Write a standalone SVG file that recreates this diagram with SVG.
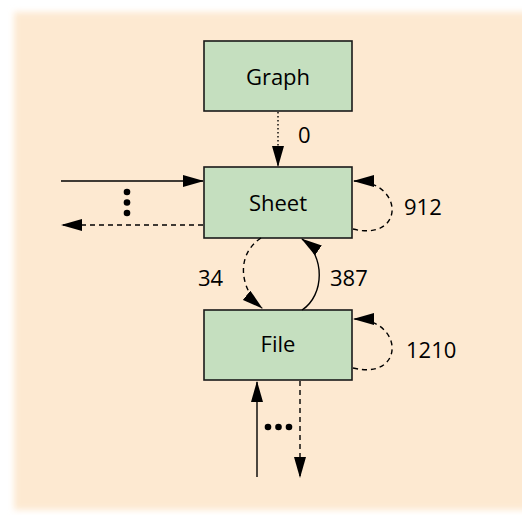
<svg xmlns="http://www.w3.org/2000/svg" width="522" height="515" viewBox="0 0 522 515">
  <defs>
    <filter id="soft" x="-5%" y="-5%" width="110%" height="110%">
      <feGaussianBlur stdDeviation="3"/>
    </filter>
    <marker id="head" viewBox="0 0 21 12" refX="20" refY="6" markerWidth="21" markerHeight="12" markerUnits="userSpaceOnUse" orient="auto">
      <path d="M0,0 L21,6 L0,12 z" fill="#000"/>
    </marker>
  </defs>
  <style>
    .node rect { fill: #c5dfbf; stroke: #1a1a1a; stroke-width: 1.6; }
    .node text { font-family: "Open Sans", "DejaVu Sans", sans-serif; font-size: 22px; fill: #000; text-anchor: middle; }
    .label { font-family: "Open Sans", "DejaVu Sans", sans-serif; font-size: 22px; fill: #000; }
    .edge { fill: none; stroke: #000; stroke-width: 1.4; marker-end: url(#head); }
    .dashed { stroke-dasharray: 5 4; }
    .dotted { stroke-dasharray: 1.5 2.5; }
    .dot { fill: #000; }
  </style>

  <!-- page background -->
  <rect width="522" height="515" fill="#ffffff"/>
  <rect x="14" y="12" width="520" height="498" fill="#fde9d1" filter="url(#soft)"/>

  <!-- nodes -->
  <g id="graph" class="node">
    <rect x="204" y="41" width="148" height="70"/>
    <text x="278" y="85">Graph</text>
  </g>
  <g id="sheet" class="node">
    <rect x="204" y="167" width="148" height="71"/>
    <text x="278" y="211">Sheet</text>
  </g>
  <g id="file" class="node">
    <rect x="204" y="310" width="148" height="70"/>
    <text x="278" y="352">File</text>
  </g>

  <!-- connectors -->
  <g id="connectors">
    <path class="edge dotted" d="M278,112 L278,166"/>
    <path class="edge" d="M61,181 L203,181"/>
    <path class="edge dashed" d="M203,225 L62,225"/>
    <path class="edge dashed" d="M353,229 C405,242 405,181 354,181"/>
    <path class="edge dashed" d="M261,238 C235,255 240,290 262,308"/>
    <path class="edge" d="M302,310 C325,295 325,255 302,239"/>
    <path class="edge dashed" d="M353,368 C405,381 405,319 354,319"/>
    <path class="edge" d="M257,477 L257,382"/>
    <path class="edge dashed" d="M300,381 L300,477"/>

    <circle class="dot" cx="127" cy="192" r="3.3"/>
    <circle class="dot" cx="127" cy="202.5" r="3.3"/>
    <circle class="dot" cx="127" cy="213" r="3.3"/>
    <circle class="dot" cx="268" cy="427" r="3.3"/>
    <circle class="dot" cx="278.5" cy="427" r="3.3"/>
    <circle class="dot" cx="289" cy="427" r="3.3"/>

    <text class="label" x="298" y="143">0</text>
    <text class="label" x="404" y="215">912</text>
    <text class="label" x="198" y="286">34</text>
    <text class="label" x="330" y="286">387</text>
    <text class="label" x="406" y="358">1210</text>
  </g>
</svg>
